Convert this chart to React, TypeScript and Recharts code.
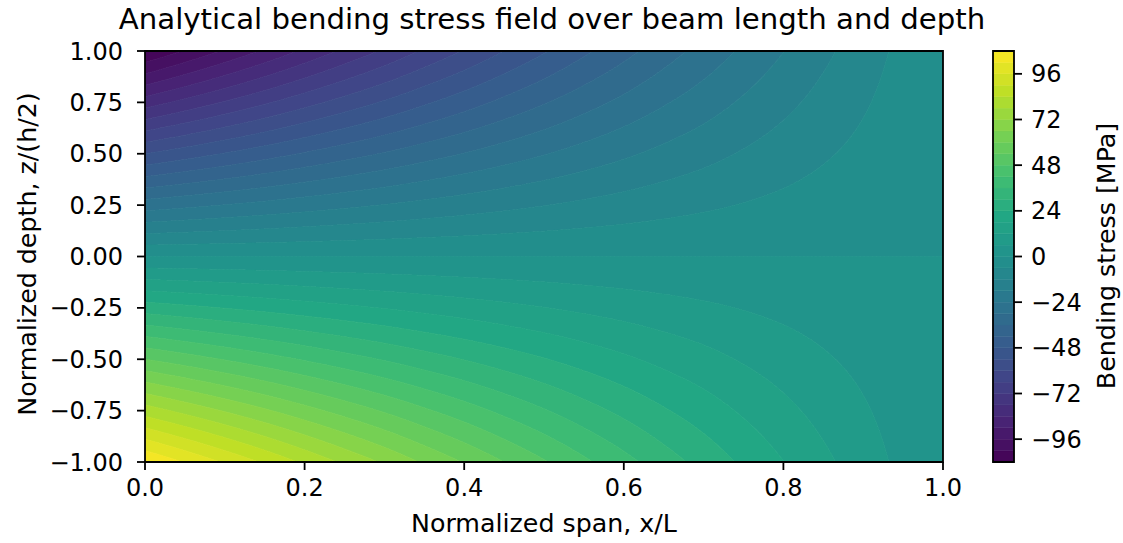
import React from 'react';
import { ComposedChart, Area, XAxis, YAxis, ReferenceArea } from 'recharts';

// Bending stress at the bottom fibre (z/(h/2) = -1) read along the span [MPa]
const spanStations = [0, 0.05, 0.1, 0.15, 0.2, 0.25, 0.3, 0.35, 0.4, 0.45, 0.5, 0.55, 0.6, 0.65, 0.7, 0.75, 0.8, 0.85, 0.9, 0.95, 1.0];
const bottomFibreStress = [108, 101.6, 95.3, 89.1, 82.9, 76.9, 71.1, 65.2, 59.6, 54.0, 48.6, 43.2, 38.0, 32.8, 27.9, 22.9, 18.1, 13.4, 8.9, 4.4, 0];

// Contour levels [MPa]
const stressLevels = [-108, -102, -96, -90, -84, -78, -72, -66, -60, -54, -48, -42, -36, -30, -24, -18, -12, -6, 0, 6, 12, 18, 24, 30, 36, 42, 48, 54, 60, 66, 72, 78, 84, 90, 96, 102, 108];

const xTicks = [0, 0.2, 0.4, 0.6, 0.8, 1.0];
const yTicks = [-1, -0.75, -0.5, -0.25, 0, 0.25, 0.5, 0.75, 1];
const cbTicks = [-96, -72, -48, -24, 0, 24, 48, 72, 96];

const viridis = ['#440154', '#482475', '#414487', '#355f8d', '#2a788e', '#21918c', '#22a884', '#44bf70', '#7ad151', '#bddf26', '#fde725'];

const FONT = 'DejaVu Sans';
const W = 1123;
const H = 543;

function hexToRgb(h: string) {
  return [parseInt(h.slice(1, 3), 16), parseInt(h.slice(3, 5), 16), parseInt(h.slice(5, 7), 16)];
}
function cmap(t: number) {
  const tt = Math.max(0, Math.min(1, t)) * (viridis.length - 1);
  const i = Math.min(viridis.length - 2, Math.floor(tt));
  const f = tt - i;
  const a = hexToRgb(viridis[i]);
  const b = hexToRgb(viridis[i + 1]);
  const c = a.map((v, k) => Math.round(v + (b[k] - v) * f));
  return `rgb(${c[0]},${c[1]},${c[2]})`;
}

// monotone cubic (Fritsch-Carlson) resampling of the read profile
function makeMonotone(xs: number[], ys: number[]) {
  const n = xs.length;
  const d: number[] = [];
  for (let i = 0; i < n - 1; i++) d.push((ys[i + 1] - ys[i]) / (xs[i + 1] - xs[i]));
  const m: number[] = new Array(n);
  m[0] = d[0];
  m[n - 1] = d[n - 2];
  for (let i = 1; i < n - 1; i++) {
    m[i] = d[i - 1] * d[i] <= 0 ? 0 : (d[i - 1] + d[i]) / 2;
  }
  for (let i = 0; i < n - 1; i++) {
    if (d[i] === 0) { m[i] = 0; m[i + 1] = 0; continue; }
    const a = m[i] / d[i];
    const b = m[i + 1] / d[i];
    const s = a * a + b * b;
    if (s > 9) {
      const t = 3 / Math.sqrt(s);
      m[i] = t * a * d[i];
      m[i + 1] = t * b * d[i];
    }
  }
  return (x: number) => {
    let i = 0;
    while (i < n - 2 && x > xs[i + 1]) i++;
    const h = xs[i + 1] - xs[i];
    const t = (x - xs[i]) / h;
    const t2 = t * t, t3 = t2 * t;
    return (2 * t3 - 3 * t2 + 1) * ys[i] + (t3 - 2 * t2 + t) * h * m[i] + (-2 * t3 + 3 * t2) * ys[i + 1] + (t3 - t2) * h * m[i + 1];
  };
}

const sBottom = makeMonotone(spanStations, bottomFibreStress);
const bands = stressLevels.slice(0, -1).map((lo, i) => ({ lo, hi: stressLevels[i + 1], key: `b${i}` }));
const vmin = stressLevels[0];
const vmax = stressLevels[stressLevels.length - 1];
const bandColor = (b: { lo: number; hi: number }) => cmap(((b.lo + b.hi) / 2 - vmin) / (vmax - vmin));

const NS = 600;
const clip = (z: number) => Math.max(-1, Math.min(1, z));
const fieldData = Array.from({ length: NS + 1 }, (_, j) => {
  const x = j / NS;
  const s = Math.max(sBottom(x), 1e-6);
  const row: any = { x };
  // sigma(x, z) = -s(x) * z  (linear through depth)
  bands.forEach((b) => {
    const z1 = clip(-b.hi / s);
    const z2 = clip(-b.lo / s);
    row[b.key] = [z1, z2];
  });
  return row;
});

const cbData = [{ x: 0 }, { x: 1 }];

const tickStyle = { fill: '#000', fontSize: 24, fontFamily: FONT };
const fmtMinus = (s: string) => s.replace('-', '\u2212');

export default function App() {
  return (
    <div style={{ position: 'absolute', left: 0, top: 0, width: W, height: H, background: '#fff' }}>
      <div style={{ position: 'absolute', left: 0, top: 0 }}>
        <ComposedChart width={W} height={H} data={fieldData} margin={{ top: 51, right: 180, bottom: 0, left: 0 }}>
          <XAxis
            type="number"
            dataKey="x"
            domain={[0, 1]}
            ticks={xTicks}
            tickFormatter={(v: number) => v.toFixed(1)}
            height={81}
            tick={tickStyle}
            tickSize={8}
            tickMargin={9}
            tickLine={{ stroke: '#000', strokeWidth: 1.8 }}
            axisLine={false}
            allowDataOverflow
          />
          <YAxis
            type="number"
            domain={[-1, 1]}
            ticks={yTicks}
            tickFormatter={(v: number) => fmtMinus(v.toFixed(2))}
            width={145}
            tick={tickStyle}
            tickSize={8}
            tickMargin={14}
            tickLine={{ stroke: '#000', strokeWidth: 1.8 }}
            axisLine={false}
            allowDataOverflow
          />
          {bands.map((b) => (
            <Area
              key={b.key}
              type="linear"
              dataKey={b.key}
              fill={bandColor(b)}
              fillOpacity={1}
              stroke={bandColor(b)}
              strokeWidth={0.8}
              dot={false}
              activeDot={false}
              isAnimationActive={false}
            />
          ))}
          <ReferenceArea x1={0} x2={1} y1={-1} y2={1} fill="none" stroke="#000" strokeWidth={1.8} ifOverflow="visible" />
        </ComposedChart>
      </div>
      <div style={{ position: 'absolute', left: 0, top: 0 }}>
        <ComposedChart width={W} height={H} data={cbData} margin={{ top: 51, right: 0, bottom: 81, left: 993 }}>
          <XAxis type="number" dataKey="x" domain={[0, 1]} hide />
          <YAxis
            type="number"
            orientation="right"
            domain={[vmin, vmax]}
            ticks={cbTicks}
            tickFormatter={(v: number) => fmtMinus(String(v))}
            width={109}
            tick={{ ...tickStyle, textAnchor: 'start' }}
            tickSize={8}
            tickMargin={9}
            tickLine={{ stroke: '#000', strokeWidth: 1.8 }}
            axisLine={false}
            allowDataOverflow
          />
          {bands.map((b) => (
            <ReferenceArea key={b.key} x1={0} x2={1} y1={b.lo} y2={b.hi} fill={bandColor(b)} fillOpacity={1} stroke={bandColor(b)} strokeWidth={0.5} ifOverflow="visible" />
          ))}
          <ReferenceArea x1={0} x2={1} y1={vmin} y2={vmax} fill="none" stroke="#000" strokeWidth={1.8} ifOverflow="visible" />
        </ComposedChart>
      </div>
      <svg width={W} height={H} style={{ position: 'absolute', left: 0, top: 0, pointerEvents: 'none' }}>
        <text x={552} y={29} textAnchor="middle" fontFamily={FONT} fontSize={29.2} fill="#000">
          Analytical bending stress field over beam length and depth
        </text>
        <text x={544} y={532} textAnchor="middle" fontFamily={FONT} fontSize={25.3} fill="#000">
          Normalized span, x/L
        </text>
        <text x={0} y={0} transform="translate(36,254) rotate(-90)" textAnchor="middle" fontFamily={FONT} fontSize={25.3} fill="#000">
          Normalized depth, z/(h/2)
        </text>
        <text x={0} y={0} transform="translate(1115,256) rotate(-90)" textAnchor="middle" fontFamily={FONT} fontSize={25.3} fill="#000">
          Bending stress [MPa]
        </text>
      </svg>
    </div>
  );
}
